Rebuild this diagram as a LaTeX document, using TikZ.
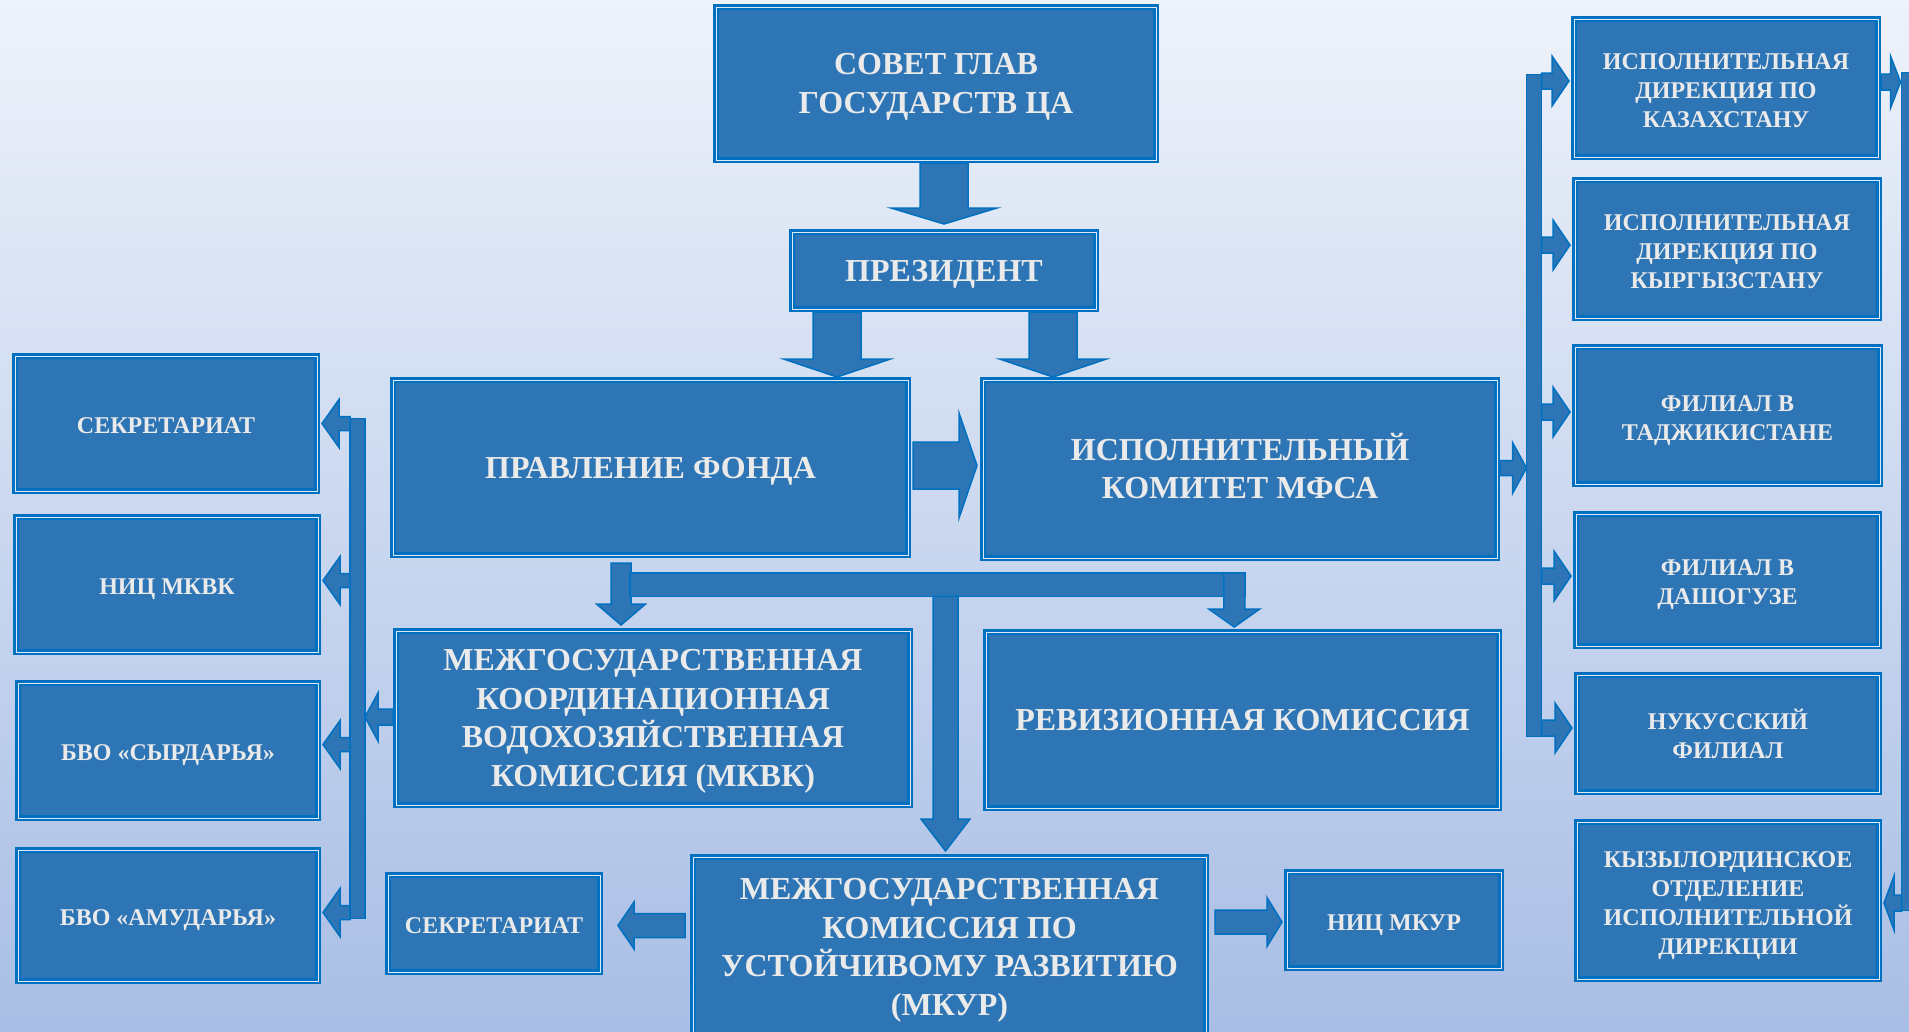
\documentclass[tikz,border=0pt]{standalone}
\usepackage{fontspec}
\setmainfont{Liberation Serif}
\usetikzlibrary{calc}
\definecolor{boxfill}{RGB}{46,117,182}
\definecolor{bord}{RGB}{0,112,192}
\definecolor{txt}{RGB}{234,234,234}
\definecolor{bgtop}{RGB}{238,242,250}
\definecolor{bgbot}{RGB}{169,190,229}
\definecolor{thinline}{RGB}{222,233,247}
\newcommand\clx{0.66em}
\tikzset{
 box/.style={rectangle, fill=boxfill, draw=bord, double=thinline, line width=2.5pt,
   double distance=1pt, inner sep=0pt, outer sep=3pt, align=center, text=txt,
   font={\bfseries\fontsize{32}{38.5}\selectfont\def\clx{0.66em}}},
 sbox/.style={box, font={\bfseries\fontsize{24}{29}\selectfont\def\clx{\dimexpr0.66em+5pt\relax}}},
 barrow/.style={fill=boxfill, draw=bord, line width=1.5pt, line join=miter},
 bar/.style={rectangle, fill=boxfill, draw=bord, line width=1.5pt, inner sep=0pt, outer sep=0pt},
}
% one line of box text, centred on its capitals
\newcommand\cl[1]{\smash{#1}\rule{0pt}{\clx}}
\newcommand\bdarrow[5]{\draw[barrow] ($(#1)+(-#3,0)$) -- ($(#1|-#2)+(-#3,-#5)$) -- ($(#1|-#2)+(-#4,-#5)$) -- (#1|-#2) -- ($(#1|-#2)+(#4,-#5)$) -- ($(#1|-#2)+(#3,-#5)$) -- ($(#1)+(#3,0)$) -- cycle;}
\newcommand\brarrow[5]{\draw[barrow] ($(#1)+(0,-#3)$) -- ($(#2|-#1)+(-#5,-#3)$) -- ($(#2|-#1)+(-#5,-#4)$) -- (#2|-#1) -- ($(#2|-#1)+(-#5,#4)$) -- ($(#2|-#1)+(-#5,#3)$) -- ($(#1)+(0,#3)$) -- cycle;}
\newcommand\blarrow[5]{\draw[barrow] ($(#1)+(0,-#3)$) -- ($(#2|-#1)+(#5,-#3)$) -- ($(#2|-#1)+(#5,-#4)$) -- (#2|-#1) -- ($(#2|-#1)+(#5,#4)$) -- ($(#2|-#1)+(#5,#3)$) -- ($(#1)+(0,#3)$) -- cycle;}
\begin{document}
\begin{tikzpicture}[x=1pt,y=-1pt]
\useasboundingbox (0,0) rectangle (1909,1031);
\shade[top color=bgtop, bottom color=bgbot] (0,0) rectangle (1909,1031);
\clip (0,0) rectangle (1909,1031);

% main boxes
\node[box, minimum width=440pt, minimum height=153pt] (sovet) at (936,83.5) {\cl{СОВЕТ ГЛАВ}\\\cl{ГОСУДАРСТВ ЦА}};
\node[box, minimum width=304pt, minimum height=77pt] (pres) at (944,270.5) {\cl{ПРЕЗИДЕНТ}};
\node[box, minimum width=515pt, minimum height=175pt] (pravl) at (650.5,467.5) {\cl{ПРАВЛЕНИЕ ФОНДА}};
\node[box, minimum width=514pt, minimum height=178pt] (ik) at (1240,469) {\cl{ИСПОЛНИТЕЛЬНЫЙ}\\\cl{КОМИТЕТ МФСА}};
\node[box, minimum width=514pt, minimum height=174pt] (mkvk) at (653,718) {\cl{МЕЖГОСУДАРСТВЕННАЯ}\\\cl{КООРДИНАЦИОННАЯ}\\\cl{ВОДОХОЗЯЙСТВЕННАЯ}\\\cl{КОМИССИЯ (МКВК)}};
\node[box, minimum width=513pt, minimum height=176pt] (rev) at (1242.5,720) {\cl{РЕВИЗИОННАЯ КОМИССИЯ}};
\node[box, minimum width=513pt, minimum height=180pt] (mkur) at (949.5,947) {\cl{МЕЖГОСУДАРСТВЕННАЯ}\\\cl{КОМИССИЯ ПО}\\\cl{УСТОЙЧИВОМУ РАЗВИТИЮ}\\\cl{(МКУР)}};
\node[sbox, minimum width=212pt, minimum height=97pt] (sec2) at (494,923.5) {\cl{СЕКРЕТАРИАТ}};
\node[sbox, minimum width=214pt, minimum height=96pt] (nicmkur) at (1394,920) {\cl{НИЦ МКУР}};

% left boxes
\node[sbox, minimum width=302pt, minimum height=135pt] (sec1) at (166,423.5) {\cl{СЕКРЕТАРИАТ}};
\node[sbox, minimum width=302pt, minimum height=135pt] (nicmkvk) at (167,584.5) {\cl{НИЦ МКВК}};
\node[sbox, minimum width=300pt, minimum height=135pt] (bvos) at (168,750.5) {\cl{БВО «СЫРДАРЬЯ»}};
\node[sbox, minimum width=300pt, minimum height=131pt] (bvoa) at (168,915.5) {\cl{БВО «АМУДАРЬЯ»}};

% right boxes
\node[sbox, minimum width=304pt, minimum height=138pt] (kaz) at (1726,88) {\cl{ИСПОЛНИТЕЛЬНАЯ}\\\cl{ДИРЕКЦИЯ ПО}\\\cl{КАЗАХСТАНУ}};
\node[sbox, minimum width=304pt, minimum height=138pt] (kyr) at (1727,249) {\cl{ИСПОЛНИТЕЛЬНАЯ}\\\cl{ДИРЕКЦИЯ ПО}\\\cl{КЫРГЫЗСТАНУ}};
\node[sbox, minimum width=305pt, minimum height=137pt] (taj) at (1727.5,415.5) {\cl{ФИЛИАЛ В}\\\cl{ТАДЖИКИСТАНЕ}};
\node[sbox, minimum width=303pt, minimum height=132pt] (dash) at (1727.5,580) {\cl{ФИЛИАЛ В}\\\cl{ДАШОГУЗЕ}};
\node[sbox, minimum width=302pt, minimum height=117pt] (nuk) at (1728,733.5) {\cl{НУКУССКИЙ}\\\cl{ФИЛИАЛ}};
\node[sbox, minimum width=302pt, minimum height=157pt] (kyz) at (1728,900.5) {\cl{КЫЗЫЛОРДИНСКОЕ}\\\cl{ОТДЕЛЕНИЕ}\\\cl{ИСПОЛНИТЕЛЬНОЙ}\\\cl{ДИРЕКЦИИ}};

% bars
\node[bar, minimum width=15pt, minimum height=662pt] (rbar) at (1534,405.5) {};
\node[bar, minimum width=15pt, minimum height=500pt] (lbar) at (357.5,668.5) {};
\node[bar, minimum width=15pt, minimum height=838pt] (fbar) at (1909,491.5) {};

% top arrows
\coordinate (a1) at (sovet.south -| pres.north);
\coordinate (a1t) at ($(pres.north)+(0,-5)$);
\bdarrow{a1}{a1t}{24}{53}{16}
\coordinate (a2) at ($(pres.south)+(-107,0)$);
\bdarrow{a2}{pravl.north}{24}{53.5}{18}
\coordinate (a3) at ($(pres.south)+(109,0)$);
\bdarrow{a3}{ik.north}{24}{53.5}{18}

% pravl -> ik
\coordinate (b1) at ($(pravl.east)+(2,-2)$);
\coordinate (b1t) at ($(ik.west)+(-3,-2)$);
\brarrow{b1}{b1t}{23.5}{52.5}{18}

% ik -> right bar
\coordinate (c1) at ($(ik.east)+(0,-1)$);
\brarrow{c1}{rbar.west}{7.5}{25.5}{14}

% right bar -> right boxes
\foreach \n/\dy in {kaz/-7,kyr/-4,taj/-3.5,dash/-4,nuk/-5.5}{
  \coordinate (s\n) at ($(rbar.east |- \n.west)+(0,\dy)$);
  \coordinate (t\n) at ($(\n.west)+(-2,\dy)$);
  \brarrow{s\n}{t\n}{8}{25}{17}
}

% far right connector kaz -> kyz
\coordinate (f1) at ($(kaz.east)+(0,-6)$);
\coordinate (f1t) at ($(fbar.west |- f1)+(-1,0)$);
\brarrow{f1}{f1t}{8}{26}{10}
\coordinate (f2) at ($(fbar.west |- kyz.east)+(0,2.5)$);
\coordinate (f2t) at ($(kyz.east)+(2,2.5)$);
\blarrow{f2}{f2t}{8}{27}{10}

% left bar -> left boxes
\foreach \n/\dy in {sec1/0,nicmkvk/-4,bvos/-6,bvoa/-3}{
  \coordinate (l\n) at ($(lbar.west |- \n.east)+(0,\dy)$);
  \coordinate (lt\n) at ($(\n.east)+(2,\dy)$);
  \blarrow{l\n}{lt\n}{7}{24}{17}
}
% mkvk -> left bar
\coordinate (m1) at ($(mkvk.west)+(0,-1)$);
\blarrow{m1}{lbar.east}{8}{24}{13}

% junction below pravl
\coordinate (j1) at ($(pravl.south)+(-29.5,5)$);
\coordinate (j1t) at ($(mkvk.north)+(0,-3)$);
\bdarrow{j1}{j1t}{10}{24.5}{21}
\node[bar, minimum width=615.5pt, minimum height=23.5pt] (hbar) at (937.5,584.5) {};
\coordinate (j2) at ($(hbar.north east)+(-11,0)$);
\coordinate (j2t) at ($(rev.north)+(0,-2)$);
\bdarrow{j2}{j2t}{10.5}{25.5}{18}
\coordinate (j3) at ($(hbar.south)+(8,0)$);
\coordinate (j3t) at ($(mkur.north)+(0,-3)$);
\bdarrow{j3}{j3t}{12.5}{24.5}{32}

% mkur side arrows
\coordinate (k1) at ($(mkur.west |- sec2.east)+(-5,2)$);
\coordinate (k1t) at ($(sec2.east)+(15,2)$);
\blarrow{k1}{k1t}{12}{23.5}{16}
\coordinate (k2) at ($(mkur.east |- nicmkur.west)+(6,2)$);
\coordinate (k2t) at ($(nicmkur.west)+(-2,2)$);
\brarrow{k2}{k2t}{12}{24.5}{15}
\end{tikzpicture}
\end{document}
